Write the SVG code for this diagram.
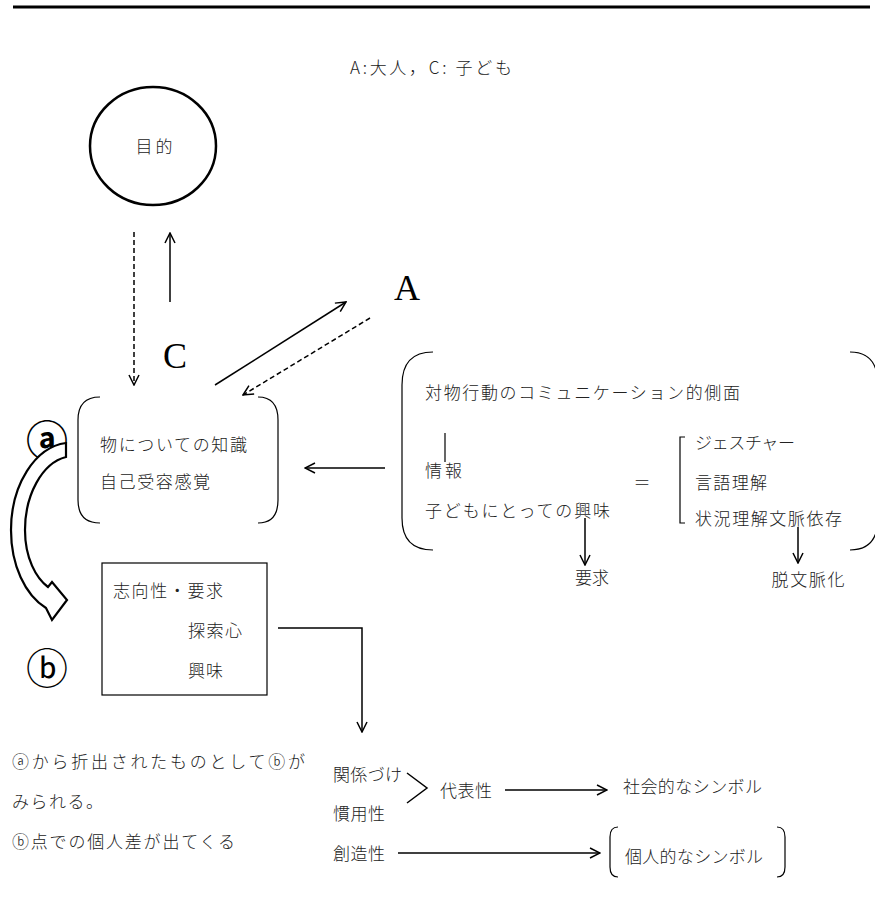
<svg xmlns="http://www.w3.org/2000/svg" width="875" height="907" viewBox="0 0 875 907">
<defs>
<style>
.t{font-family:"Noto Sans CJK JP","Noto Sans",sans-serif;font-size:17px;fill:#222;font-weight:300}
.big{font-family:"Liberation Serif",serif;font-size:36px;fill:#000}
.ln{stroke:#000;stroke-width:1.5;fill:none}
.dash{stroke:#000;stroke-width:1.5;fill:none;stroke-dasharray:5 3}
.thin{stroke:#000;stroke-width:1.2;fill:none}
.circ{font-family:"Noto Sans CJK JP","DejaVu Sans",sans-serif;font-size:42px;fill:#000}
</style>
<marker id="ah" viewBox="0 0 12 12" refX="11" refY="6" markerWidth="12" markerHeight="12" markerUnits="userSpaceOnUse" orient="auto">
<path d="M1,1 L11,6 L1,11" fill="none" stroke="#000" stroke-width="1.5"/>
</marker>
</defs>
<rect width="875" height="907" fill="#fff"/>
<line x1="13" y1="7" x2="870" y2="7" stroke="#000" stroke-width="3"/>
<text class="t" x="350" y="74" font-size="15" textLength="162" lengthAdjust="spacing">A:大人，C: 子ども</text>

<g id="purpose">
<ellipse cx="153" cy="146" rx="63" ry="59" fill="none" stroke="#000" stroke-width="2.5"/>
<text class="t" x="154" y="153" text-anchor="middle" font-size="19" textLength="37" lengthAdjust="spacing">目的</text>
</g>
<g id="labelC"><text class="big" x="175" y="368" text-anchor="middle">C</text></g>
<g id="labelA"><text class="big" x="407" y="300" text-anchor="middle">A</text></g>

<g id="knowledge">
<path class="thin" d="M100,397 Q78,397 78,420 L78,500 Q78,523 100,523"/>
<path class="thin" d="M258,397 Q278,397 278,420 L278,500 Q278,523 258,523"/>
<text class="t" x="100" y="451" textLength="147" lengthAdjust="spacing">物についての知識</text>
<text class="t" x="100" y="488" textLength="110" lengthAdjust="spacing">自己受容感覚</text>
</g>

<g id="communication">
<path class="thin" d="M433,352 Q402,352 402,385 L402,518 Q402,550 433,550"/>
<path class="thin" d="M850,352 Q878,352 878,385 L878,518 Q878,550 850,550"/>
<text class="t" x="425" y="399" textLength="315" lengthAdjust="spacing">対物行動のコミュニケーション的側面</text>
<line class="thin" x1="445" y1="433" x2="445" y2="462"/>
<text class="t" x="425" y="477" textLength="37" lengthAdjust="spacing">情報</text>
<text class="t" x="425" y="517" textLength="185" lengthAdjust="spacing">子どもにとっての興味</text>
<text class="t" x="642" y="489" text-anchor="middle">＝</text>
<path class="thin" d="M685,437 L680,437 L680,523 L685,523"/>
<text class="t" x="695" y="449" textLength="100" lengthAdjust="spacing">ジェスチャー</text>
<text class="t" x="695" y="489" textLength="72" lengthAdjust="spacing">言語理解</text>
<text class="t" x="695" y="525" textLength="147" lengthAdjust="spacing">状況理解文脈依存</text>
</g>
<g id="demand"><text class="t" x="592" y="584" text-anchor="middle">要求</text></g>
<g id="decontext"><text class="t" x="808" y="586" text-anchor="middle" textLength="73" lengthAdjust="spacing">脱文脈化</text></g>

<g id="circleA"><text class="circ" x="47" y="456" text-anchor="middle" font-weight="bold">ⓐ</text></g>
<g id="circleB"><text class="circ" x="47" y="684" text-anchor="middle">ⓑ</text></g>

<g id="curvedArrow">
<path d="M66,443 L66,457 C42,463 25,495 25,530 C25,558 36,578 48,587 L52,582 L67,600 L52,620 L46,608 C25,595 11,565 11,530 C11,485 35,447 66,443 Z" fill="#fff" stroke="#000" stroke-width="2.2" stroke-linejoin="miter"/>
</g>

<g id="orientation">
<rect x="102" y="563" width="165" height="132" fill="none" stroke="#000" stroke-width="1.2"/>
<text class="t" x="113" y="597" textLength="110" lengthAdjust="spacing">志向性・要求</text>
<text class="t" x="188" y="637" textLength="54" lengthAdjust="spacing">探索心</text>
<text class="t" x="188" y="677" textLength="35" lengthAdjust="spacing">興味</text>
</g>

<g id="note">
<text class="t" x="12" y="768" textLength="293" lengthAdjust="spacing">ⓐから折出されたものとしてⓑが</text>
<text class="t" x="12" y="808" textLength="91" lengthAdjust="spacing">みられる。</text>
<text class="t" x="12" y="848" textLength="223" lengthAdjust="spacing">ⓑ点での個人差が出てくる</text>
</g>

<g id="relating"><text class="t" x="333" y="781" textLength="69" lengthAdjust="spacing">関係づけ</text></g>
<g id="convention"><text class="t" x="333" y="820" textLength="52" lengthAdjust="spacing">慣用性</text></g>
<g id="creativity"><text class="t" x="333" y="860" textLength="52" lengthAdjust="spacing">創造性</text></g>
<g id="representation"><text class="t" x="440" y="797" textLength="52" lengthAdjust="spacing">代表性</text></g>
<g id="socialSymbol"><text class="t" x="623" y="793" textLength="139" lengthAdjust="spacing">社会的なシンボル</text></g>
<g id="personalSymbol">
<path class="thin" d="M618,827 Q610,827 610,837 L610,867 Q610,877 618,877"/>
<path class="thin" d="M777,827 Q785,827 785,837 L785,867 Q785,877 777,877"/>
<text class="t" x="625" y="863" textLength="138" lengthAdjust="spacing">個人的なシンボル</text>
</g>

<g id="connectors">
<line class="ln" x1="170" y1="302" x2="170" y2="233" marker-end="url(#ah)"/>
<line class="dash" x1="134" y1="232" x2="134" y2="385" marker-end="url(#ah)"/>
<line class="ln" x1="215" y1="385" x2="346" y2="302" marker-end="url(#ah)"/>
<line class="dash" x1="370" y1="318" x2="243" y2="395" marker-end="url(#ah)"/>
<line class="ln" x1="385" y1="468" x2="305" y2="468" marker-end="url(#ah)"/>
<line class="ln" x1="585" y1="518" x2="585" y2="565" marker-end="url(#ah)"/>
<line class="ln" x1="798" y1="527" x2="798" y2="563" marker-end="url(#ah)"/>
<polyline class="ln" points="278,628 362,628 362,732" marker-end="url(#ah)"/>
<polyline class="ln" points="407,773 427,788 407,803"/>
<line class="ln" x1="505" y1="790" x2="607" y2="790" marker-end="url(#ah)"/>
<line class="ln" x1="398" y1="853" x2="600" y2="853" marker-end="url(#ah)"/>
</g>
</svg>
